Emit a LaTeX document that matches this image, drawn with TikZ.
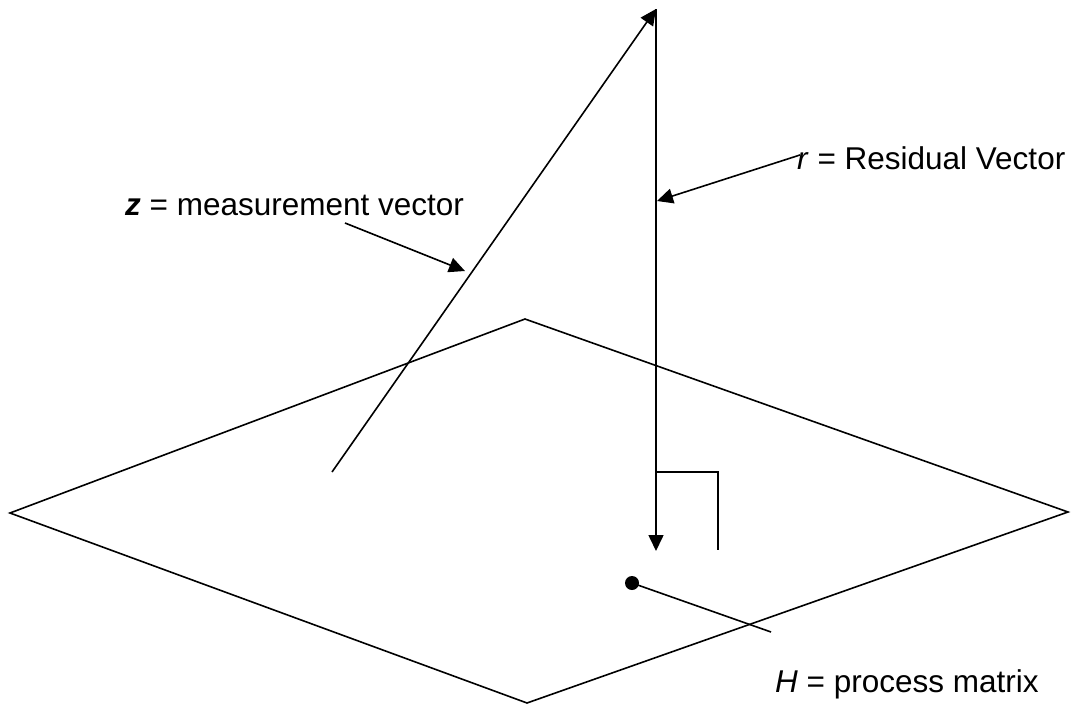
\documentclass[tikz,border=0pt]{standalone}
\usepackage{fontspec}
\setmainfont{Liberation Sans}
\usetikzlibrary{arrows.meta}
\begin{document}
\begin{tikzpicture}[x=1pt,y=-1pt,
  ln/.style={line width=1.6pt,line join=miter},
  arr/.style={ln,-{Triangle[length=16pt,width=15pt]}},
  lbl/.style={font=\fontsize{31.5}{36}\selectfont,inner sep=0pt,anchor=base west}]
\useasboundingbox (0,0) rectangle (1077,707);
% plane
\coordinate (pl) at (10,513);
\coordinate (pt) at (525,319);
\coordinate (pr) at (1068,512);
\coordinate (pb) at (527,703);
\draw[ln] (pl) -- (pt) -- (pr) -- (pb) -- cycle;
% vectors
\coordinate (zs) at (332,472);
\coordinate (top) at (656,9);
\coordinate (foot) at (656,551);
\draw[arr] (zs) -- (top);
\draw[arr] (top) -- (foot);
% right angle mark
\coordinate (ra1) at (656,472);
\coordinate (ra2) at (718,472);
\coordinate (ra3) at (718,550);
\draw[ln] (ra1) -- (ra2) -- (ra3);
% labels
\node[lbl] (rl) at (797,169) {\textit{r} = Residual Vector};
\node[lbl] (zl) at (125,215) {\textbf{\textit{z}} = measurement vector};
\node[lbl] (hl) at (775,692) {\textit{H} = process matrix};
% label pointers
\coordinate (rs) at (800,155);
\coordinate (re) at (657,201);
\draw[arr] (rs) -- (re);
\coordinate (zps) at (345,223);
\coordinate (zpe) at (465,271);
\draw[arr] (zps) -- (zpe);
\fill (632,583) circle (7pt) coordinate (dot);
\coordinate (he) at (771,632);
\draw[ln] (dot) -- (he);
\end{tikzpicture}
\end{document}
